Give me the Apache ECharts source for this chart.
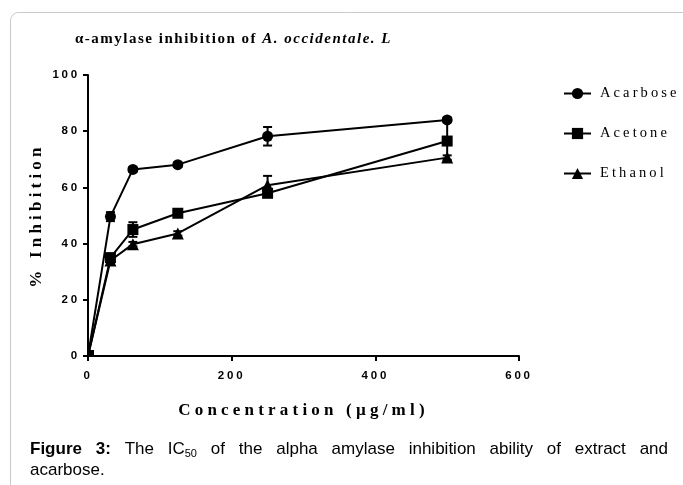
<!DOCTYPE html>
<html><head><meta charset="utf-8">
<script src="https://cdn.jsdelivr.net/npm/echarts@6/dist/echarts.min.js"></script>
<style>html,body{margin:0;padding:0;background:#fff}#c{width:683px;height:485px}</style>
</head><body><div id="c"></div>
<script>
// ---- data ----
const conc = [0, 31.25, 62.5, 125, 250, 500];
const acarbose = [0, 49.6, 66.4, 68.1, 78.2, 84.0];
const acarboseErr = [0, 1.6, 0.8, 0.8, 3.3, 0.8];
const acetone = [0, 35.0, 45.0, 50.8, 57.9, 76.5];
const acetoneErr = [0, 1.4, 2.6, 0.8, 1.0, 7.0];
const ethanol = [0, 34.0, 39.8, 43.6, 60.8, 70.6];
const ethanolErr = [0, 1.0, 0.8, 0.8, 3.3, 0.8];
const seriesNames = ['Acarbose', 'Acetone', 'Ethanol'];
const xTicks = [0, 200, 400, 600];
const yTicks = [0, 20, 40, 60, 80, 100];
const titlePlain = 'α-amylase inhibition of ';
const titleItalic = 'A. occidentale. L';
const xName = 'Concentration (µg/ml)';
const yName = '% Inhibition';

// ---- letter spacing for the spaced (PDF-like) texts ----
const TITLE_LS = 1.5;
function spacingFor(f) {
  if (/Serif/.test(f)) {
    if (/\b15px/.test(f)) return TITLE_LS;
    if (/\b17px/.test(f)) return 4.2;
    if (/\b14\.5px/.test(f)) return 3.1;
  }
  if (/11\.5px/.test(f)) return 2.8;
  return 0;
}
const proto = CanvasRenderingContext2D.prototype;
const origFill = proto.fillText;
proto.fillText = function () {
  if ('letterSpacing' in this) {
    const want = spacingFor(this.font) + 'px';
    if (this.letterSpacing !== want) {
      this.letterSpacing = want;
      const f = this.font; this.font = f;
    }
  }
  origFill.apply(this, arguments);
};
const mctx = document.createElement('canvas').getContext('2d');
function textW(str, font, ls) { mctx.font = font; return mctx.measureText(str).width + (ls || 0) * str.length; }

const chart = echarts.init(document.getElementById('c'), null, { renderer: 'canvas', width: 683, height: 485 });

function lineSeries(name, vals, symbol, size) {
  return {
    type: 'line', name: name, symbol: symbol, symbolSize: size, z: 3,
    data: conc.map((x, i) => i === 0 ? { value: [x, vals[i]], symbolSize: 6, symbolOffset: [3, -3] } : [x, vals[i]]),
    itemStyle: { color: '#000' }, lineStyle: { color: '#000', width: 2 },
    animation: false, clip: false
  };
}
function errSeries(name, vals, errs) {
  return {
    type: 'custom', name: name, z: 2, silent: true, animation: false,
    data: conc.map((x, i) => [x, vals[i], errs[i]]),
    encode: { x: 0, y: 1 },
    renderItem: function (params, api) {
      const x = api.value(0), y = api.value(1), e = api.value(2);
      if (!e) return null;
      const t = api.coord([x, y + e]), b = api.coord([x, y - e]);
      const hw = 4.5, st = { stroke: '#000', lineWidth: 2 };
      return { type: 'group', children: [
        { type: 'line', shape: { x1: t[0], y1: t[1], x2: b[0], y2: b[1] }, style: st },
        { type: 'line', shape: { x1: t[0] - hw, y1: t[1], x2: t[0] + hw, y2: t[1] }, style: st },
        { type: 'line', shape: { x1: b[0] - hw, y1: b[1], x2: b[0] + hw, y2: b[1] }, style: st }
      ] };
    }
  };
}

// ---- title pieces ----
const TITLE_FONT = 'bold 15px Liberation Serif';
const TITLE_IFONT = 'italic bold 15px Liberation Serif';
const titleX = 75, titleY = 39;
const titleItalicX = titleX + textW(titlePlain, TITLE_FONT, TITLE_LS);

// ---- caption (justified first line) ----
const CAP_B = 'bold 17px Liberation Sans', CAP_R = '17px Liberation Sans', CAP_S = '11px Liberation Sans';
const capWords = [
  { t: 'Figure', f: CAP_B }, { t: '3:', f: CAP_B }, { t: 'The', f: CAP_R }, { t: 'IC', f: CAP_R, sub: '50' },
  { t: 'of', f: CAP_R }, { t: 'the', f: CAP_R }, { t: 'alpha', f: CAP_R }, { t: 'amylase', f: CAP_R },
  { t: 'inhibition', f: CAP_R }, { t: 'ability', f: CAP_R }, { t: 'of', f: CAP_R }, { t: 'extract', f: CAP_R }, { t: 'and', f: CAP_R }
];
const capL = 30, capR = 668, capY1 = 449, capY2 = 470;
const wordWs = capWords.map(w => textW(w.t, w.f) + (w.sub ? textW(w.sub, CAP_S) : 0));
const totalW = wordWs.reduce((a, b) => a + b, 0);
const gap = (capR - capL - totalW) / (capWords.length - 1);
function txt(x, y, text, font) {
  return { type: 'text', x: x, y: y, silent: true,
    style: { text: text, font: font, fill: '#000', textAlign: 'left', textVerticalAlign: 'middle', align: 'left', verticalAlign: 'middle' } };
}
const graphics = [
  { type: 'rect', silent: true, z: 0, shape: { x: 10.5, y: 12.5, width: 720, height: 520, r: 8 },
    style: { fill: 'none', stroke: '#c9c9c9', lineWidth: 1 } },
  txt(titleX, titleY, titlePlain, TITLE_FONT),
  txt(titleItalicX, titleY, titleItalic, TITLE_IFONT)
];
let cx = capL;
capWords.forEach((w, i) => {
  graphics.push(txt(cx, capY1, w.t, w.f));
  if (w.sub) graphics.push(txt(cx + textW(w.t, w.f), capY1 + 5, w.sub, CAP_S));
  cx += wordWs[i] + gap;
});
graphics.push(txt(capL, capY2, 'acarbose.', CAP_R));

const axisCommon = {
  axisLine: { show: true, lineStyle: { color: '#000', width: 2 } },
  axisTick: { show: true, inside: false, length: 5, lineStyle: { color: '#000', width: 2 } },
  splitLine: { show: false },
  axisLabel: { color: '#000', fontFamily: 'Liberation Sans', fontWeight: 'bold', fontSize: 11.5 },
  nameLocation: 'middle',
  nameTextStyle: { color: '#000', fontFamily: 'Liberation Serif', fontWeight: 'bold', fontSize: 17 }
};

chart.setOption({
  animation: false,
  backgroundColor: '#fff',
  grid: { left: 88, right: 164, top: 75, bottom: 129, containLabel: false },
  xAxis: Object.assign({}, axisCommon, {
    type: 'value', min: xTicks[0], max: xTicks[xTicks.length - 1], interval: xTicks[1] - xTicks[0],
    name: xName, nameGap: 46,
    axisLabel: Object.assign({}, axisCommon.axisLabel, { margin: 14 })
  }),
  yAxis: Object.assign({}, axisCommon, {
    type: 'value', min: yTicks[0], max: yTicks[yTicks.length - 1], interval: yTicks[1] - yTicks[0],
    name: yName, nameGap: 43,
    axisLabel: Object.assign({}, axisCommon.axisLabel, { margin: 8 })
  }),
  legend: {
    data: seriesNames, orient: 'vertical', left: 558, top: 81, itemWidth: 27, itemHeight: 14, itemGap: 25,
    textStyle: { color: '#000', fontFamily: 'Liberation Serif', fontSize: 14.5, padding: [0, 0, 0, 4] },
    selectedMode: false
  },
  graphic: graphics,
  series: [
    errSeries('Acarbose-err', acarbose, acarboseErr),
    errSeries('Acetone-err', acetone, acetoneErr),
    errSeries('Ethanol-err', ethanol, ethanolErr),
    lineSeries(seriesNames[0], acarbose, 'circle', 11),
    lineSeries(seriesNames[1], acetone, 'rect', 11),
    lineSeries(seriesNames[2], ethanol, 'triangle', 12)
  ]
});
</script>
</body></html>
